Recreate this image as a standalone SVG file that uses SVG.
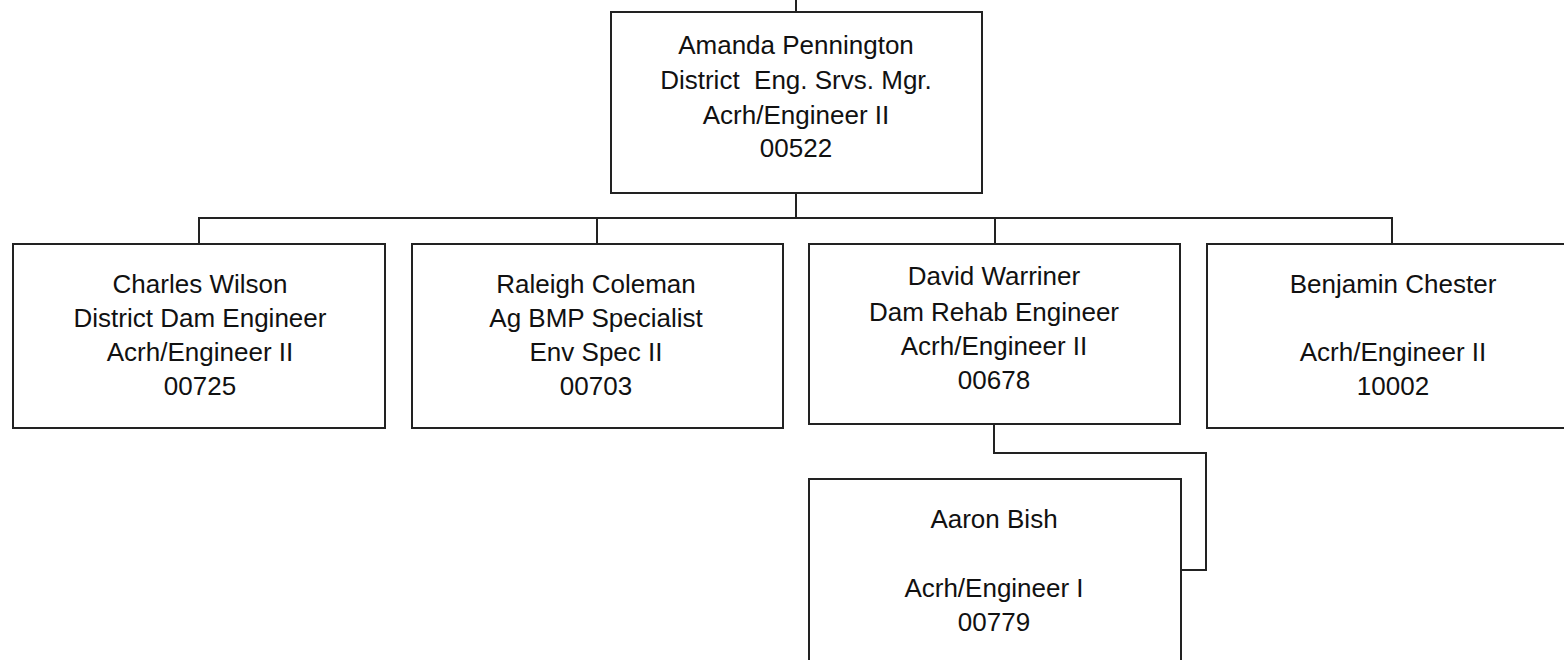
<svg xmlns="http://www.w3.org/2000/svg" width="1564" height="660" viewBox="0 0 1564 660">
<style>
.box{fill:#fff;stroke:#222;stroke-width:2}
.con{fill:none;stroke:#222;stroke-width:2}
text{font-family:"Liberation Sans",Arial,sans-serif;font-size:26px;fill:#111;text-anchor:middle}
.pre{white-space:pre}
</style>
<rect width="1564" height="660" fill="#fff"/>
<g id="connectors">
<path class="con" d="M796 0V12"/>
<path class="con" d="M796 193V218"/>
<path class="con" d="M199 244V218H1392V244"/>
<path class="con" d="M597 218V244"/>
<path class="con" d="M995 218V244"/>
<path class="con" d="M994 424V453H1206V570H1181"/>
</g>
<g id="amanda">
<rect class="box" x="611" y="12" width="371" height="181"/>
<text x="796" y="54">Amanda Pennington</text>
<text class="pre" x="796" y="89" xml:space="preserve">District  Eng. Srvs. Mgr.</text>
<text x="796" y="124">Acrh/Engineer II</text>
<text x="796" y="157">00522</text>
</g>
<g id="charles">
<rect class="box" x="13" y="244" width="372" height="184"/>
<text x="200" y="293">Charles Wilson</text>
<text x="200" y="327">District Dam Engineer</text>
<text x="200" y="361">Acrh/Engineer II</text>
<text x="200" y="395">00725</text>
</g>
<g id="raleigh">
<rect class="box" x="412" y="244" width="371" height="184"/>
<text x="596" y="293">Raleigh Coleman</text>
<text x="596" y="327">Ag BMP Specialist</text>
<text x="596" y="361">Env Spec II</text>
<text x="596" y="395">00703</text>
</g>
<g id="david">
<rect class="box" x="809" y="244" width="371" height="180"/>
<text x="994" y="285">David Warriner</text>
<text x="994" y="321">Dam Rehab Engineer</text>
<text x="994" y="355">Acrh/Engineer II</text>
<text x="994" y="389">00678</text>
</g>
<g id="benjamin">
<rect class="box" x="1207" y="244" width="372" height="184"/>
<text x="1393" y="293">Benjamin Chester</text>
<text x="1393" y="361">Acrh/Engineer II</text>
<text x="1393" y="395">10002</text>
</g>
<g id="aaron">
<rect class="box" x="809" y="479" width="372" height="200"/>
<text x="994" y="528">Aaron Bish</text>
<text x="994" y="597">Acrh/Engineer I</text>
<text x="994" y="631">00779</text>
</g>
</svg>
